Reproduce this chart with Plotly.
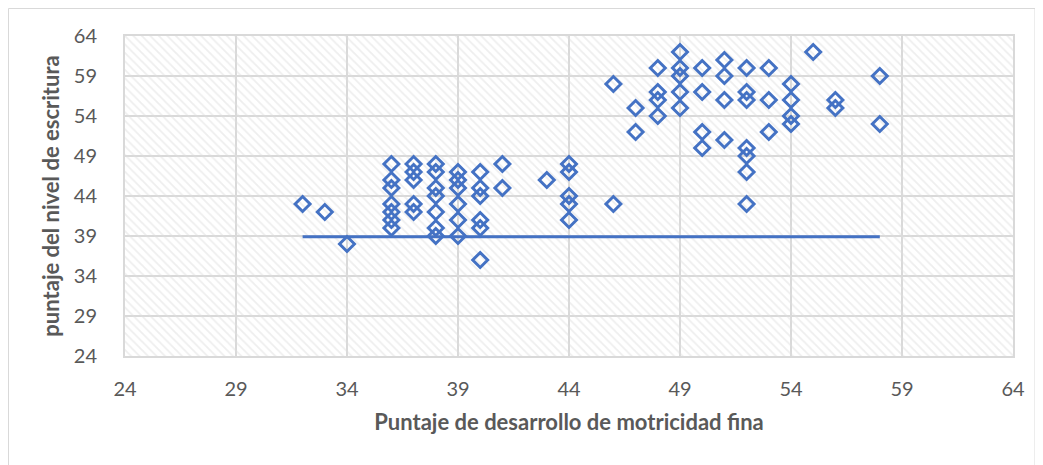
import plotly.graph_objects as go

# Data
motricidad = [32, 33, 34,
              36, 36, 36, 36, 36, 36, 36,
              37, 37, 37, 37, 37,
              38, 38, 38, 38, 38, 38, 38,
              39, 39, 39, 39, 39, 39,
              40, 40, 40, 40, 40, 40,
              41, 41,
              43,
              44, 44, 44, 44, 44,
              46, 46,
              47, 47,
              48, 48, 48, 48,
              49, 49, 49, 49, 49,
              50, 50, 50, 50,
              51, 51, 51, 51,
              52, 52, 52, 52, 52, 52, 52,
              53, 53, 53,
              54, 54, 54, 54,
              55,
              56, 56,
              58, 58]
escritura = [43, 42, 38,
             48, 46, 45, 43, 42, 41, 40,
             48, 47, 46, 43, 42,
             48, 47, 45, 44, 42, 40, 39,
             47, 46, 45, 43, 41, 39,
             47, 45, 44, 41, 40, 36,
             48, 45,
             46,
             48, 47, 44, 43, 41,
             58, 43,
             55, 52,
             60, 57, 56, 54,
             62, 60, 59, 57, 55,
             60, 57, 52, 50,
             61, 59, 56, 51,
             60, 57, 56, 50, 49, 47, 43,
             60, 56, 52,
             58, 56, 54, 53,
             62,
             56, 55,
             59, 53]

ref_x = [32, 58]
ref_y = [38.9, 38.9]

axis_min, axis_max = 24, 64
tick_vals = [24, 29, 34, 39, 44, 49, 54, 59, 64]

blue = "#4472C4"
grey_text = "#595959"
grid = "#d9d9d9"
font_family = "Lato, 'Open Sans', sans-serif"

fig = go.Figure()

# patterned plot-area background (transparent so gridlines show through)
fig.add_trace(go.Scatter(
    x=[axis_min, axis_max, axis_max, axis_min, axis_min],
    y=[axis_min, axis_min, axis_max, axis_max, axis_min],
    mode="lines", line=dict(width=0), fill="toself",
    fillcolor="rgba(255,255,255,0)",
    fillpattern=dict(shape="\\", fgcolor="#dedede", bgcolor="rgba(255,255,255,0)",
                     size=6, solidity=0.3, fillmode="overlay"),
    hoverinfo="skip", showlegend=False))

fig.add_trace(go.Scatter(
    x=ref_x, y=ref_y, mode="lines",
    line=dict(color=blue, width=3), showlegend=False))

fig.add_trace(go.Scatter(
    x=motricidad, y=escritura, mode="markers",
    marker=dict(symbol="diamond-open", size=11.5,
                line=dict(color=blue, width=3), color=blue),
    showlegend=False))

axis_common = dict(
    range=[axis_min, axis_max], tickvals=tick_vals,
    showgrid=True, gridcolor=grid, gridwidth=2,
    showline=True, linecolor=grid, linewidth=2, mirror=True,
    zeroline=False, ticks="",
    tickfont=dict(family=font_family, size=20, color=grey_text),
)

fig.update_xaxes(**axis_common, ticklabelstandoff=14,
                 title=dict(text="<b>Puntaje de desarrollo de motricidad fina</b>",
                            font=dict(family=font_family, size=22, color=grey_text),
                            standoff=16))
fig.update_yaxes(**axis_common, ticklabelstandoff=22,
                 title=dict(text="<b>puntaje del nivel de escritura</b>",
                            font=dict(family=font_family, size=22, color=grey_text),
                            standoff=8))

fig.update_layout(
    width=1035, height=457,
    margin=dict(l=117, r=30, t=28, b=109),
    paper_bgcolor="white", plot_bgcolor="white",
    shapes=[dict(type="rect", xref="paper", yref="paper",
                 x0=-0.1312, x1=1.0248, y0=-0.36, y1=1.0859,
                 line=dict(color=grid, width=1), layer="below")],
)

fig.write_html("out.html")
